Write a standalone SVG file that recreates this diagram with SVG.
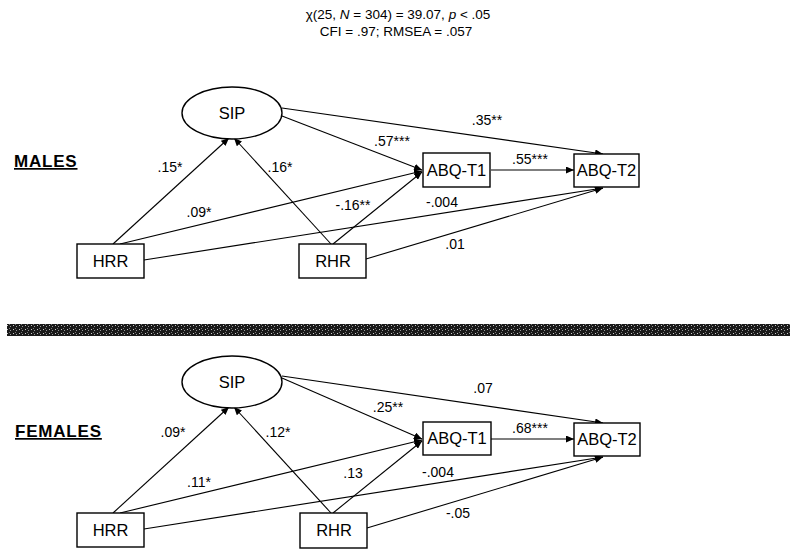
<svg xmlns="http://www.w3.org/2000/svg" width="800" height="555" viewBox="0 0 800 555">
<style>
.bg{fill:#fff}
.node{fill:#fff;stroke:#000;stroke-width:1.4}
.edge{stroke:#000;stroke-width:1.1;fill:none;marker-end:url(#ah)}
.nt{font-family:"Liberation Sans",Arial,sans-serif;font-size:16.5px;fill:#000;text-anchor:middle}
.lbl{font-family:"Liberation Sans",Arial,sans-serif;font-size:14px;fill:#000;text-anchor:middle}
.hdr{font-family:"Liberation Sans",Arial,sans-serif;font-size:13.5px;fill:#000;text-anchor:middle}
.grp{font-family:"Liberation Sans",Arial,sans-serif;font-size:17px;font-weight:bold;fill:#000;text-decoration:underline;letter-spacing:0.8px}
</style>
<defs>
<marker id="ah" viewBox="0 0 8 7" refX="8" refY="3.5" markerWidth="8" markerHeight="7" markerUnits="userSpaceOnUse" orient="auto">
<path d="M0,0 L8,3.5 L0,7 z" fill="#000"/>
</marker>
<pattern id="spk" width="6" height="4" patternUnits="userSpaceOnUse">
<rect width="6" height="4" fill="#1a1a1a"/>
<rect x="1" y="1" width="1" height="1" fill="#c8c8c8"/>
<rect x="4" y="2" width="1" height="1" fill="#9a9a9a"/>
<rect x="3" y="0" width="1" height="1" fill="#777"/>
</pattern>
</defs>
<rect class="bg" width="800" height="555"/>

<g id="header">
<text class="hdr" x="398" y="19">χ(25, <tspan font-style="italic">N</tspan> = 304) = 39.07, <tspan font-style="italic">p</tspan> &lt; .05</text>
<text class="hdr" x="396" y="36">CFI = .97; RMSEA = .057</text>
</g>

<g id="separator">
<rect x="7" y="324" width="783" height="12" fill="url(#spk)"/>
</g>

<!-- MALES -->
<g id="males-title"><text class="grp" x="14" y="167">MALES</text></g>

<g id="connectors-males">
<line class="edge" x1="113" y1="244" x2="229" y2="138"/>
<line class="edge" x1="331" y1="244" x2="234" y2="138"/>
<line class="edge" x1="282" y1="116" x2="422" y2="170"/>
<line class="edge" x1="282" y1="108" x2="603" y2="154"/>
<line class="edge" x1="120" y1="244" x2="422" y2="171"/>
<line class="edge" x1="333" y1="244" x2="422" y2="172"/>
<line class="edge" x1="491" y1="170" x2="574" y2="170"/>
<line class="edge" x1="144" y1="260" x2="603" y2="188"/>
<line class="edge" x1="366" y1="259" x2="603" y2="188"/>
<text class="lbl" x="170" y="172">.15*</text>
<text class="lbl" x="280" y="172">.16*</text>
<text class="lbl" x="199" y="217">.09*</text>
<text class="lbl" x="353" y="210">-.16**</text>
<text class="lbl" x="392" y="146">.57***</text>
<text class="lbl" x="487" y="125">.35**</text>
<text class="lbl" x="530" y="164">.55***</text>
<text class="lbl" x="442" y="207">-.004</text>
<text class="lbl" x="455" y="249">.01</text>
</g>

<g id="m-SIP"><ellipse class="node" cx="232" cy="113" rx="50" ry="26"/><text class="nt" x="232" y="119">SIP</text></g>
<g id="m-HRR"><rect class="node" x="77" y="244" width="67" height="34"/><text class="nt" x="110.5" y="267">HRR</text></g>
<g id="m-RHR"><rect class="node" x="299" y="244" width="67" height="34"/><text class="nt" x="333" y="267">RHR</text></g>
<g id="m-ABQT1"><rect class="node" x="423" y="153" width="67" height="34"/><text class="nt" x="456.5" y="176">ABQ-T1</text></g>
<g id="m-ABQT2"><rect class="node" x="574" y="154" width="65" height="33"/><text class="nt" x="606.5" y="176">ABQ-T2</text></g>

<!-- FEMALES -->
<g id="females-title"><text class="grp" x="15" y="437">FEMALES</text></g>

<g id="connectors-females">
<line class="edge" x1="113" y1="513" x2="229" y2="407"/>
<line class="edge" x1="331" y1="513" x2="234" y2="407"/>
<line class="edge" x1="282" y1="378" x2="422" y2="439"/>
<line class="edge" x1="282" y1="376" x2="603" y2="423"/>
<line class="edge" x1="120" y1="513" x2="422" y2="440"/>
<line class="edge" x1="333" y1="513" x2="422" y2="441"/>
<line class="edge" x1="491" y1="439" x2="574" y2="439"/>
<line class="edge" x1="144" y1="529" x2="603" y2="457"/>
<line class="edge" x1="367" y1="528" x2="603" y2="457"/>
<text class="lbl" x="173" y="437">.09*</text>
<text class="lbl" x="278" y="437">.12*</text>
<text class="lbl" x="199" y="487">.11*</text>
<text class="lbl" x="353" y="478">.13</text>
<text class="lbl" x="388" y="412">.25**</text>
<text class="lbl" x="483" y="393">.07</text>
<text class="lbl" x="530" y="433">.68***</text>
<text class="lbl" x="438" y="477">-.004</text>
<text class="lbl" x="458" y="518">-.05</text>
</g>

<g id="f-SIP"><ellipse class="node" cx="232" cy="382" rx="50" ry="26"/><text class="nt" x="232" y="388">SIP</text></g>
<g id="f-HRR"><rect class="node" x="77" y="513" width="67" height="34"/><text class="nt" x="110.5" y="536">HRR</text></g>
<g id="f-RHR"><rect class="node" x="300" y="513" width="67" height="35"/><text class="nt" x="334" y="536">RHR</text></g>
<g id="f-ABQT1"><rect class="node" x="423" y="422" width="68" height="33"/><text class="nt" x="457" y="444">ABQ-T1</text></g>
<g id="f-ABQT2"><rect class="node" x="574" y="423" width="66" height="33"/><text class="nt" x="607" y="445">ABQ-T2</text></g>
</svg>
